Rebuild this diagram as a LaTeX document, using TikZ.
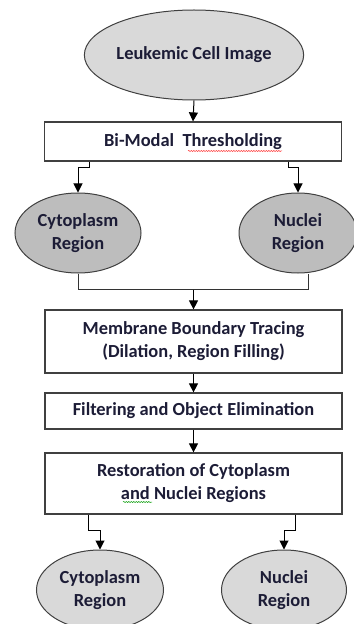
\documentclass[tikz,border=0pt]{standalone}
\usepackage{fontspec}
\setmainfont{Carlito}
\usepackage{xcolor}
\usetikzlibrary{
    positioning,
    arrows.meta,
    shapes.geometric,
    decorations.pathmorphing
}

\definecolor{ovallight}{HTML}{D9D9D9}
\definecolor{ovaldark}{HTML}{BDBDBD}
\definecolor{txtnavy}{HTML}{1C1C36}

\begin{document}
\begin{tikzpicture}[x=1bp, y=-1bp,
        every node/.style={font=\fontsize{18.5}{23}\selectfont\bfseries, text=txtnavy, align=center},
        oval/.style={ellipse, draw=black!75, line width=1bp, inner sep=0pt},
        procbox/.style={rectangle, draw=black!75, line width=1.2bp, minimum width=297bp, inner sep=0pt},
        arr/.style={draw=black, line width=1bp, -{Triangle[width=9bp,length=9bp]}},
        link/.style={draw=black!80, line width=1bp}]
            \useasboundingbox (0,0) rectangle (353,624);

            % ovals and boxes
            \node[oval, fill=ovallight, minimum width=182bp, minimum height=90bp] (img) at (194,55) {Leukemic Cell Image};
            \node[procbox, minimum height=39bp] (thr) at (193,141.5) {Bi-Modal\ \ Thresholding};
            \node[oval, fill=ovaldark, minimum width=126bp, minimum height=80bp] (cyto1) at (78,233) {Cytoplasm\\Region};
            \node[oval, fill=ovaldark, minimum width=118bp, minimum height=80bp] (nuc1) at (298,233) {Nuclei\\Region};
            \node[procbox, minimum height=63bp] (mbt) at (193.5,341.5) {Membrane Boundary Tracing\\(Dilation, Region Filling)};
            \node[procbox, minimum height=36bp] (filt) at (193.5,411) {Filtering and Object Elimination};
            \node[procbox, minimum height=61bp] (rest) at (193.5,483.5) {Restoration of Cytoplasm\\and Nuclei Regions};
            \node[oval, fill=ovallight, minimum width=127bp, minimum height=80bp] (cyto2) at (100,590) {Cytoplasm\\Region};
            \node[oval, fill=ovallight, minimum width=125bp, minimum height=80bp] (nuc2) at (284,590) {Nuclei\\Region};

            % spell-check marks
            \draw[red!80, line width=0.5bp, decorate, decoration={snake, amplitude=0.6bp, segment length=2.5bp}] (188,151) -- (282,151);
            \draw[green!60!black, line width=0.5bp, decorate, decoration={snake, amplitude=0.6bp, segment length=2.5bp}] (123,502) -- (152,502);

            % connectors
            \draw[arr] (img.south) -- (thr.north);
            \draw[arr] ([xshift=-104bp]thr.south) -- ++(0,6) -| (cyto1.north);
            \draw[arr] ([xshift=95bp]thr.south) -- ++(0,6) -| (nuc1.north);
            \draw[link] (cyto1.south) -- ++(0,16) coordinate (join) -| ([xshift=10bp]nuc1.south);
            \draw[arr] (join -| mbt.north) -- (mbt.north);
            \draw[arr] (mbt.south) -- (filt.north);
            \draw[arr] (filt.south) -- (rest.north);
            \draw[arr] ([xshift=-105.5bp]rest.south) -- ++(0,16) -| (cyto2.north);
            \draw[arr] ([xshift=101.5bp]rest.south) -- ++(0,16) -| (nuc2.north);
        \end{tikzpicture}
\end{document}
